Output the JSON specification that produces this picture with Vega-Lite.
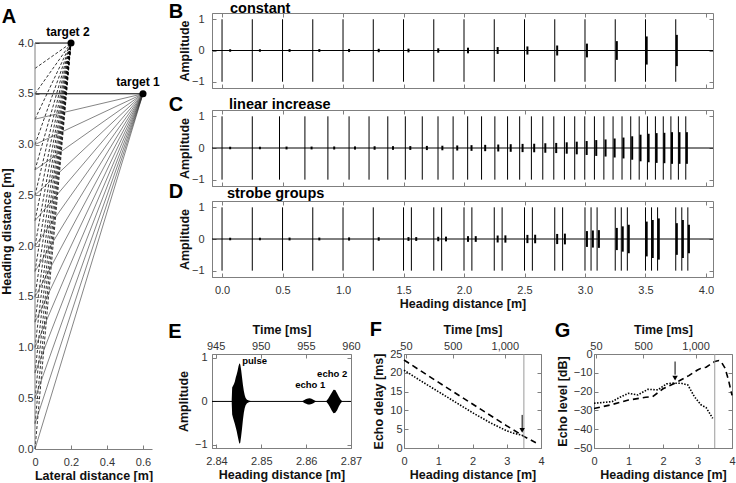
{
"$schema":"https://vega.github.io/schema/vega-lite/v6.json",
"background":"white",
"padding":{"left":0,"top":0,"right":0,"bottom":0},
"config":{
 "font":"Liberation Sans",
 "view":{"stroke":"#7f7f7f"},
 "axis":{"labelFont":"Liberation Sans","labelFontSize":11,"labelColor":"#333333","titleFont":"Liberation Sans","titleFontSize":12.5,"titleFontWeight":"bold","titleColor":"#111111","domainColor":"#7f7f7f","tickColor":"#7f7f7f","tickSize":-4,"labelPadding":6,"grid":false,"labelFlush":false,"labelOverlap":false,"labelBound":false},
 "axisBottom":{"labelPadding":11,"titlePadding":2},
 "axisTop":{"labelPadding":7},
 "text":{"font":"Liberation Sans"}
},
"bounds":"flush",
"spacing":60,
"hconcat":[
 {
  "width":117,"height":436,"view":{"stroke":null},
  "layer":[
   {"data":{"values":[
     {"x":0,"y":0,"x2":0.2,"y2":4},{"x":0,"y":0.25,"x2":0.2,"y2":4},{"x":0,"y":0.5,"x2":0.2,"y2":4},{"x":0,"y":0.75,"x2":0.2,"y2":4},
     {"x":0,"y":1,"x2":0.2,"y2":4},{"x":0,"y":1.25,"x2":0.2,"y2":4},{"x":0,"y":1.5,"x2":0.2,"y2":4},{"x":0,"y":1.75,"x2":0.2,"y2":4},
     {"x":0,"y":2,"x2":0.2,"y2":4},{"x":0,"y":2.25,"x2":0.2,"y2":4},{"x":0,"y":2.5,"x2":0.2,"y2":4},{"x":0,"y":2.75,"x2":0.2,"y2":4},
     {"x":0,"y":3,"x2":0.2,"y2":4},{"x":0,"y":3.25,"x2":0.2,"y2":4},{"x":0,"y":3.5,"x2":0.2,"y2":4},{"x":0,"y":3.75,"x2":0.2,"y2":4}]},
    "mark":{"type":"rule","strokeDash":[3,2],"strokeWidth":0.8,"color":"#000"},
    "encoding":{
     "x":{"field":"x","type":"quantitative","scale":{"domain":[0,0.65],"nice":false,"zero":false},"axis":{"values":[0,0.2,0.4,0.6],"labelExpr":"datum.value == 0 ? '0' : format(datum.value, '.1f')","labelOverlap":false,"title":"Lateral distance [m]"}},
     "y":{"field":"y","type":"quantitative","scale":{"domain":[0,4.296],"nice":false,"zero":false},"axis":{"values":[0,0.5,1,1.5,2,2.5,3,3.5,4],"format":".1f","domain":false,"title":"Heading distance [m]"}},
     "x2":{"field":"x2"},"y2":{"field":"y2"}}},
   {"data":{"values":[
     {"x":0,"y":0,"x2":0.6,"y2":3.5},{"x":0,"y":0.25,"x2":0.6,"y2":3.5},{"x":0,"y":0.5,"x2":0.6,"y2":3.5},{"x":0,"y":0.75,"x2":0.6,"y2":3.5},
     {"x":0,"y":1,"x2":0.6,"y2":3.5},{"x":0,"y":1.25,"x2":0.6,"y2":3.5},{"x":0,"y":1.5,"x2":0.6,"y2":3.5},{"x":0,"y":1.75,"x2":0.6,"y2":3.5},
     {"x":0,"y":2,"x2":0.6,"y2":3.5},{"x":0,"y":2.25,"x2":0.6,"y2":3.5},{"x":0,"y":2.5,"x2":0.6,"y2":3.5},{"x":0,"y":2.75,"x2":0.6,"y2":3.5},
     {"x":0,"y":3,"x2":0.6,"y2":3.5},{"x":0,"y":3.25,"x2":0.6,"y2":3.5}]},
    "mark":{"type":"rule","strokeWidth":0.6,"color":"#333"},
    "encoding":{"x":{"field":"x","type":"quantitative","axis":null},"y":{"field":"y","type":"quantitative","axis":null},"x2":{"field":"x2"},"y2":{"field":"y2"}}},
   {"data":{"values":[{"x":0,"y":3.5,"x2":0.6,"y2":3.5},{"x":0,"y":4,"x2":0.2,"y2":4}]},
    "mark":{"type":"rule","strokeWidth":1,"color":"#000"},
    "encoding":{"x":{"field":"x","type":"quantitative","axis":null},"y":{"field":"y","type":"quantitative","axis":null},"x2":{"field":"x2"},"y2":{"field":"y2"}}},
   {"data":{"values":[{"x":0,"y":0,"x2":0,"y2":4}]},
    "mark":{"type":"rule","strokeWidth":1,"color":"#7f7f7f"},
    "encoding":{"x":{"field":"x","type":"quantitative","axis":null},"y":{"field":"y","type":"quantitative","axis":null},"x2":{"field":"x2"},"y2":{"field":"y2"}}},
   {"data":{"values":[{"x":0.6,"y":3.5},{"x":0.2,"y":4}]},
    "mark":{"type":"point","filled":true,"size":50,"color":"#000","opacity":1},
    "encoding":{"x":{"field":"x","type":"quantitative","axis":null},"y":{"field":"y","type":"quantitative","axis":null}}},
   {"data":{"values":[{"x":0.572,"y":3.58,"t":"target 1"},{"x":0.183,"y":4.07,"t":"target 2"}]},
    "mark":{"type":"text","fontSize":12,"fontWeight":"bold","align":"center","baseline":"alphabetic","color":"#000"},
    "encoding":{"x":{"field":"x","type":"quantitative","axis":null},"y":{"field":"y","type":"quantitative","axis":null},"text":{"field":"t"}}},
   {"data":{"values":[{"x":-0.144,"y":4.2,"t":"A"}]},
    "mark":{"type":"text","fontSize":20,"fontWeight":"bold","align":"center","baseline":"alphabetic","color":"#000"},
    "encoding":{"x":{"field":"x","type":"quantitative","axis":null},"y":{"field":"y","type":"quantitative","axis":null},"text":{"field":"t"}}}
  ],
  "resolve":{"axis":{"x":"independent","y":"independent"}}
 },
 {"bounds":"flush","spacing":0,"vconcat":[
    {
     "width":501,"height":75,
     "layer":[
      {"data":{"values":[{"d":0},{"d":0.25},{"d":0.5},{"d":0.75},{"d":1},{"d":1.25},{"d":1.5},{"d":1.75},{"d":2},{"d":2.25},{"d":2.5},{"d":2.75},{"d":3},{"d":3.25},{"d":3.5},{"d":3.75}]},
       "mark":{"type":"rule","strokeWidth":1,"color":"#000"},
       "encoding":{
        "x":{"field":"d","type":"quantitative","scale":{"domain":[-0.083,4.058],"nice":false,"zero":false},"axis":{"values":[0,0.5,1,1.5,2,2.5,3,3.5,4],"labels":false,"title":null}},
        "y":{"datum":1,"type":"quantitative","scale":{"domain":[-1.2,1.2],"nice":false,"zero":false},"axis":{"values":[-1,0,1],"title":"Amplitude","labelPadding":12,"titlePadding":0}},
        "y2":{"datum":-1}}},
      {"data":{"values":[{"d":0.067,"hi":0.04,"lo":-0.04},{"d":0.313,"hi":0.04,"lo":-0.04},{"d":0.558,"hi":0.045,"lo":-0.045},{"d":0.804,"hi":0.045,"lo":-0.045},{"d":1.05,"hi":0.05,"lo":-0.05},{"d":1.295,"hi":0.055,"lo":-0.055},{"d":1.541,"hi":0.06,"lo":-0.06},{"d":1.787,"hi":0.07,"lo":-0.07},{"d":2.033,"hi":0.09,"lo":-0.09},{"d":2.278,"hi":0.11,"lo":-0.11},{"d":2.524,"hi":0.13,"lo":-0.13},{"d":2.77,"hi":0.16,"lo":-0.16},{"d":3.016,"hi":0.22,"lo":-0.22},{"d":3.263,"hi":0.3,"lo":-0.3},{"d":3.51,"hi":0.45,"lo":-0.45},{"d":3.759,"hi":0.5,"lo":-0.5}]},
       "mark":{"type":"rule","strokeWidth":2,"color":"#000"},
       "encoding":{"x":{"field":"d","type":"quantitative","axis":null},"y":{"field":"hi","type":"quantitative","axis":null},"y2":{"field":"lo"}}},
      {"data":{"values":[{"b":0}]},
       "mark":{"type":"rule","strokeWidth":1,"color":"#000"},
       "encoding":{"x":{"datum":-0.083,"type":"quantitative","axis":{"orient":"top","values":[0,0.5,1,1.5,2,2.5,3,3.5,4],"labels":false,"title":null,"domain":false}},"x2":{"datum":4.058},"y":{"datum":0,"type":"quantitative","axis":{"orient":"right","values":[-1,0,1],"labels":false,"title":null,"domain":false}}}},
      {"data":{"values":[{"d":-0.44,"hi":1.04,"t":"B","s":20},{"d":0.066,"hi":1.19,"t":"constant","s":14.5}]},
       "mark":{"type":"text","fontWeight":"bold","align":"left","baseline":"alphabetic","color":"#000"},
       "encoding":{"x":{"field":"d","type":"quantitative","axis":null},"y":{"field":"hi","type":"quantitative","axis":null},"text":{"field":"t"},"size":{"field":"s","type":"quantitative","scale":null}}}
     ],
     "resolve":{"axis":{"x":"independent","y":"independent"}}
    },
    {"width":10,"height":22,"view":{"stroke":null},"data":{"values":[]},"mark":"point","encoding":{}},
    {
     "width":501,"height":76,
     "layer":[
      {"data":{"values":[{"d":0},{"d":0.25},{"d":0.475},{"d":0.685},{"d":0.875},{"d":1.05},{"d":1.215},{"d":1.37},{"d":1.515},{"d":1.655},{"d":1.785},{"d":1.91},{"d":2.03},{"d":2.145},{"d":2.255},{"d":2.36},{"d":2.46},{"d":2.557},{"d":2.651},{"d":2.742},{"d":2.83},{"d":2.915},{"d":2.998},{"d":3.078},{"d":3.156},{"d":3.232},{"d":3.306},{"d":3.378},{"d":3.448},{"d":3.516},{"d":3.582},{"d":3.647},{"d":3.71},{"d":3.772},{"d":3.833}]},
       "mark":{"type":"rule","strokeWidth":1,"color":"#000"},
       "encoding":{
        "x":{"field":"d","type":"quantitative","scale":{"domain":[-0.083,4.058],"nice":false,"zero":false},"axis":{"values":[0,0.5,1,1.5,2,2.5,3,3.5,4],"labels":false,"title":null}},
        "y":{"datum":1,"type":"quantitative","scale":{"domain":[-1.2,1.2],"nice":false,"zero":false},"axis":{"values":[-1,0,1],"title":"Amplitude","labelPadding":12,"titlePadding":0}},
        "y2":{"datum":-1}}},
      {"data":{"values":[{"d":0.067,"hi":0.04,"lo":-0.04},{"d":0.313,"hi":0.04,"lo":-0.04},{"d":0.533,"hi":0.045,"lo":-0.045},{"d":0.74,"hi":0.045,"lo":-0.045},{"d":0.927,"hi":0.048,"lo":-0.048},{"d":1.099,"hi":0.05,"lo":-0.05},{"d":1.261,"hi":0.055,"lo":-0.055},{"d":1.413,"hi":0.058,"lo":-0.058},{"d":1.556,"hi":0.06,"lo":-0.06},{"d":1.693,"hi":0.066,"lo":-0.066},{"d":1.821,"hi":0.072,"lo":-0.072},{"d":1.944,"hi":0.08,"lo":-0.08},{"d":2.062,"hi":0.09,"lo":-0.09},{"d":2.175,"hi":0.1,"lo":-0.1},{"d":2.283,"hi":0.11,"lo":-0.11},{"d":2.386,"hi":0.12,"lo":-0.12},{"d":2.484,"hi":0.13,"lo":-0.13},{"d":2.58,"hi":0.135,"lo":-0.135},{"d":2.672,"hi":0.15,"lo":-0.15},{"d":2.762,"hi":0.16,"lo":-0.16},{"d":2.849,"hi":0.18,"lo":-0.18},{"d":2.932,"hi":0.2,"lo":-0.2},{"d":3.014,"hi":0.22,"lo":-0.22},{"d":3.093,"hi":0.25,"lo":-0.25},{"d":3.17,"hi":0.27,"lo":-0.27},{"d":3.245,"hi":0.3,"lo":-0.3},{"d":3.318,"hi":0.33,"lo":-0.33},{"d":3.39,"hi":0.37,"lo":-0.37},{"d":3.459,"hi":0.42,"lo":-0.42},{"d":3.526,"hi":0.45,"lo":-0.45},{"d":3.592,"hi":0.47,"lo":-0.47},{"d":3.656,"hi":0.48,"lo":-0.48},{"d":3.719,"hi":0.5,"lo":-0.5},{"d":3.781,"hi":0.5,"lo":-0.5},{"d":3.842,"hi":0.5,"lo":-0.5}]},
       "mark":{"type":"rule","strokeWidth":2,"color":"#000"},
       "encoding":{"x":{"field":"d","type":"quantitative","axis":null},"y":{"field":"hi","type":"quantitative","axis":null},"y2":{"field":"lo"}}},
      {"data":{"values":[{"b":0}]},
       "mark":{"type":"rule","strokeWidth":1,"color":"#000"},
       "encoding":{"x":{"datum":-0.083,"type":"quantitative","axis":{"orient":"top","values":[0,0.5,1,1.5,2,2.5,3,3.5,4],"labels":false,"title":null,"domain":false}},"x2":{"datum":4.058},"y":{"datum":0,"type":"quantitative","axis":{"orient":"right","values":[-1,0,1],"labels":false,"title":null,"domain":false}}}},
      {"data":{"values":[{"d":-0.44,"hi":1.17,"t":"C","s":20},{"d":0.058,"hi":1.23,"t":"linear increase","s":14.5}]},
       "mark":{"type":"text","fontWeight":"bold","align":"left","baseline":"alphabetic","color":"#000"},
       "encoding":{"x":{"field":"d","type":"quantitative","axis":null},"y":{"field":"hi","type":"quantitative","axis":null},"text":{"field":"t"},"size":{"field":"s","type":"quantitative","scale":null}}}
     ],
     "resolve":{"axis":{"x":"independent","y":"independent"}}
    },
    {"width":10,"height":15,"view":{"stroke":null},"data":{"values":[]},"mark":"point","encoding":{}},
    {
     "width":501,"height":76,
     "layer":[
      {"data":{"values":[{"d":0},{"d":0.25},{"d":0.5},{"d":0.75},{"d":1},{"d":1.25},{"d":1.5},{"d":1.565},{"d":1.75},{"d":1.815},{"d":2},{"d":2.065},{"d":2.25},{"d":2.315},{"d":2.5},{"d":2.565},{"d":2.75},{"d":2.815},{"d":3},{"d":3.05},{"d":3.1},{"d":3.25},{"d":3.3},{"d":3.35},{"d":3.5},{"d":3.55},{"d":3.6},{"d":3.75},{"d":3.8},{"d":3.85}]},
       "mark":{"type":"rule","strokeWidth":1,"color":"#000"},
       "encoding":{
        "x":{"field":"d","type":"quantitative","scale":{"domain":[-0.083,4.058],"nice":false,"zero":false},"axis":{"values":[0,0.5,1,1.5,2,2.5,3,3.5,4],"format":".1f","title":"Heading distance [m]"}},
        "y":{"datum":1,"type":"quantitative","scale":{"domain":[-1.2,1.2],"nice":false,"zero":false},"axis":{"values":[-1,0,1],"title":"Amplitude","labelPadding":12,"titlePadding":0}},
        "y2":{"datum":-1}}},
      {"data":{"values":[{"d":0.067,"hi":0.04,"lo":-0.04},{"d":0.313,"hi":0.04,"lo":-0.04},{"d":0.558,"hi":0.045,"lo":-0.045},{"d":0.804,"hi":0.045,"lo":-0.045},{"d":1.05,"hi":0.05,"lo":-0.05},{"d":1.295,"hi":0.055,"lo":-0.055},{"d":1.541,"hi":0.06,"lo":-0.06},{"d":1.605,"hi":0.06,"lo":-0.06},{"d":1.787,"hi":0.07,"lo":-0.07},{"d":1.851,"hi":0.075,"lo":-0.075},{"d":2.033,"hi":0.09,"lo":-0.09},{"d":2.097,"hi":0.09,"lo":-0.09},{"d":2.278,"hi":0.11,"lo":-0.11},{"d":2.342,"hi":0.115,"lo":-0.115},{"d":2.524,"hi":0.13,"lo":-0.13},{"d":2.588,"hi":0.135,"lo":-0.135},{"d":2.77,"hi":0.16,"lo":-0.16},{"d":2.834,"hi":0.17,"lo":-0.17},{"d":3.016,"hi":0.25,"lo":-0.25},{"d":3.065,"hi":0.27,"lo":-0.27},{"d":3.115,"hi":0.28,"lo":-0.28},{"d":3.263,"hi":0.35,"lo":-0.35},{"d":3.312,"hi":0.4,"lo":-0.4},{"d":3.362,"hi":0.45,"lo":-0.45},{"d":3.51,"hi":0.55,"lo":-0.55},{"d":3.56,"hi":0.6,"lo":-0.6},{"d":3.61,"hi":0.65,"lo":-0.65},{"d":3.759,"hi":0.5,"lo":-0.5},{"d":3.809,"hi":0.6,"lo":-0.6},{"d":3.859,"hi":0.45,"lo":-0.45}]},
       "mark":{"type":"rule","strokeWidth":2,"color":"#000"},
       "encoding":{"x":{"field":"d","type":"quantitative","axis":null},"y":{"field":"hi","type":"quantitative","axis":null},"y2":{"field":"lo"}}},
      {"data":{"values":[{"b":0}]},
       "mark":{"type":"rule","strokeWidth":1,"color":"#000"},
       "encoding":{"x":{"datum":-0.083,"type":"quantitative","axis":{"orient":"top","values":[0,0.5,1,1.5,2,2.5,3,3.5,4],"labels":false,"title":null,"domain":false}},"x2":{"datum":4.058},"y":{"datum":0,"type":"quantitative","axis":{"orient":"right","values":[-1,0,1],"labels":false,"title":null,"domain":false}}}},
      {"data":{"values":[{"d":-0.44,"hi":1.28,"t":"D","s":20},{"d":0.04,"hi":1.3,"t":"strobe groups","s":14.5}]},
       "mark":{"type":"text","fontWeight":"bold","align":"left","baseline":"alphabetic","color":"#000"},
       "encoding":{"x":{"field":"d","type":"quantitative","axis":null},"y":{"field":"hi","type":"quantitative","axis":null},"text":{"field":"t"},"size":{"field":"s","type":"quantitative","scale":null}}}
     ],
     "resolve":{"axis":{"x":"independent","y":"independent"}}
    },
    {"width":10,"height":77,"view":{"stroke":null},"data":{"values":[]},"mark":"point","encoding":{}},
    {"bounds":"flush","spacing":53,"hconcat":[
    {
     "width":139,"height":94,
     "layer":[
      {"data":{"values":[
        {"x":2.8434,"hi":0.05,"lo":-0.05,"g":"p"},{"x":2.8435,"hi":0.32,"lo":-0.3,"g":"p"},{"x":2.8437,"hi":0.36,"lo":-0.38,"g":"p"},{"x":2.8439,"hi":0.4,"lo":-0.45,"g":"p"},{"x":2.8441,"hi":0.46,"lo":-0.52,"g":"p"},{"x":2.8443,"hi":0.55,"lo":-0.6,"g":"p"},{"x":2.8445,"hi":0.62,"lo":-0.68,"g":"p"},{"x":2.8447,"hi":0.7,"lo":-0.78,"g":"p"},{"x":2.8449,"hi":0.8,"lo":-0.88,"g":"p"},{"x":2.8451,"hi":0.88,"lo":-0.97,"g":"p"},{"x":2.8453,"hi":0.85,"lo":-0.95,"g":"p"},{"x":2.8455,"hi":0.72,"lo":-0.8,"g":"p"},{"x":2.8457,"hi":0.55,"lo":-0.62,"g":"p"},{"x":2.8459,"hi":0.38,"lo":-0.42,"g":"p"},{"x":2.8461,"hi":0.24,"lo":-0.26,"g":"p"},{"x":2.8463,"hi":0.14,"lo":-0.15,"g":"p"},{"x":2.8465,"hi":0.08,"lo":-0.09,"g":"p"},{"x":2.8468,"hi":0.04,"lo":-0.04,"g":"p"},{"x":2.8472,"hi":0.02,"lo":-0.02,"g":"p"},{"x":2.8476,"hi":0.01,"lo":-0.01,"g":"p"},
        {"x":2.8592,"hi":0.01,"lo":-0.01,"g":"e1"},{"x":2.8596,"hi":0.035,"lo":-0.035,"g":"e1"},{"x":2.86,"hi":0.055,"lo":-0.055,"g":"e1"},{"x":2.8604,"hi":0.07,"lo":-0.07,"g":"e1"},{"x":2.8608,"hi":0.075,"lo":-0.07,"g":"e1"},{"x":2.8612,"hi":0.06,"lo":-0.06,"g":"e1"},{"x":2.8616,"hi":0.04,"lo":-0.04,"g":"e1"},{"x":2.862,"hi":0.015,"lo":-0.015,"g":"e1"},{"x":2.8623,"hi":0.005,"lo":-0.005,"g":"e1"},
        {"x":2.8645,"hi":0.01,"lo":-0.01,"g":"e2"},{"x":2.8649,"hi":0.06,"lo":-0.06,"g":"e2"},{"x":2.8653,"hi":0.13,"lo":-0.13,"g":"e2"},{"x":2.8657,"hi":0.2,"lo":-0.21,"g":"e2"},{"x":2.8661,"hi":0.27,"lo":-0.27,"g":"e2"},{"x":2.8665,"hi":0.26,"lo":-0.26,"g":"e2"},{"x":2.8669,"hi":0.19,"lo":-0.2,"g":"e2"},{"x":2.8673,"hi":0.11,"lo":-0.11,"g":"e2"},{"x":2.8677,"hi":0.04,"lo":-0.04,"g":"e2"},{"x":2.868,"hi":0.01,"lo":-0.01,"g":"e2"}]},
       "mark":{"type":"area","color":"#000","opacity":1},
       "encoding":{
        "x":{"field":"x","type":"quantitative","scale":{"domain":[2.839,2.87],"nice":false,"zero":false},"axis":{"values":[2.84,2.85,2.86,2.87],"format":".2f","title":"Heading distance [m]"}},
        "y":{"field":"hi","type":"quantitative","scale":{"domain":[-1.07,1.09],"nice":false,"zero":false},"axis":{"values":[-1,0,1],"title":"Amplitude","labelPadding":9}},
        "y2":{"field":"lo"},
        "detail":{"field":"g"}}},
      {"data":{"values":[{"b":0}]},
       "mark":{"type":"rule","strokeWidth":1,"color":"#000"},
       "encoding":{"x":{"datum":944.6,"type":"quantitative","scale":{"domain":[944.6,960],"nice":false,"zero":false},"axis":{"orient":"top","values":[945,950,955,960],"title":"Time [ms]","domain":false}},"x2":{"datum":960},"y":{"datum":0,"type":"quantitative","axis":{"orient":"right","values":[-1,0,1],"labels":false,"title":null,"domain":false}}}},
      {"data":{"values":[{"x":2.8485,"hi":0.87,"t":"pulse","s":9.5},{"x":2.8609,"hi":0.32,"t":"echo 1","s":9.5},{"x":2.8658,"hi":0.56,"t":"echo 2","s":9.5},{"x":2.83075,"hi":1.46,"t":"E","s":20}]},
       "mark":{"type":"text","fontWeight":"bold","align":"center","baseline":"alphabetic","color":"#000"},
       "encoding":{"x":{"field":"x","type":"quantitative","scale":{"domain":[2.839,2.87],"nice":false,"zero":false},"axis":null},"y":{"field":"hi","type":"quantitative","axis":null},"text":{"field":"t"},"size":{"field":"s","type":"quantitative","scale":null}}}
     ],
     "resolve":{"scale":{"x":"independent"},"axis":{"x":"independent","y":"independent"}}
    },
    {
     "width":137,"height":94,
     "layer":[
      {"data":{"values":[{"d":0,"v":23.4},{"d":1,"v":17.5},{"d":2,"v":11.7},{"d":3,"v":5.9},{"d":3.5,"v":3.1},{"d":3.85,"v":1.4}]},
       "mark":{"type":"line","strokeDash":[6,4],"strokeWidth":1.6,"color":"#000"},
       "encoding":{
        "x":{"field":"d","type":"quantitative","scale":{"domain":[0,4],"nice":false,"zero":false},"axis":{"values":[0,1,2,3,4],"title":"Heading distance [m]"}},
        "y":{"field":"v","type":"quantitative","scale":{"domain":[0,25],"nice":false,"zero":false},"axis":{"values":[0,5,10,15,20,25],"title":"Echo delay [ms]"}}}},
      {"data":{"values":[{"d":0,"v":20.7},{"d":0.5,"v":17.8},{"d":1,"v":15},{"d":1.5,"v":12.2},{"d":2,"v":9.4},{"d":2.5,"v":6.8},{"d":3,"v":4.55},{"d":3.25,"v":3.8},{"d":3.45,"v":3.4}]},
       "mark":{"type":"line","strokeDash":[1.5,1.5],"strokeWidth":1.6,"color":"#000"},
       "encoding":{"x":{"field":"d","type":"quantitative","scale":{"domain":[0,4],"nice":false,"zero":false},"axis":null},"y":{"field":"v","type":"quantitative","axis":null}}},
      {"data":{"values":[{"d":3.5}]},
       "mark":{"type":"rule","strokeWidth":1,"color":"#9a9a9a"},
       "encoding":{"x":{"field":"d","type":"quantitative","scale":{"domain":[0,4],"nice":false,"zero":false},"axis":null}}},
      {"data":{"values":[{"d":3.45,"v":8.8,"v2":5}]},
       "mark":{"type":"rule","strokeWidth":1,"color":"#000"},
       "encoding":{"x":{"field":"d","type":"quantitative","scale":{"domain":[0,4],"nice":false,"zero":false},"axis":null},"y":{"field":"v","type":"quantitative","axis":null},"y2":{"field":"v2"}}},
      {"data":{"values":[{"d":3.45,"v":4.7}]},
       "mark":{"type":"point","shape":"triangle-down","filled":true,"size":30,"color":"#000","opacity":1},
       "encoding":{"x":{"field":"d","type":"quantitative","scale":{"domain":[0,4],"nice":false,"zero":false},"axis":null},"y":{"field":"v","type":"quantitative","axis":null}}},
      {"data":{"values":[{"d":-0.82,"v":29.9,"t":"F"}]},
       "mark":{"type":"text","fontWeight":"bold","fontSize":20,"align":"center","baseline":"alphabetic","color":"#000"},
       "encoding":{"x":{"field":"d","type":"quantitative","scale":{"domain":[0,4],"nice":false,"zero":false},"axis":null},"y":{"field":"v","type":"quantitative","axis":null},"text":{"field":"t"}}},
      {"data":{"values":[{"b":0}]},
       "mark":{"type":"point","opacity":0},
       "encoding":{"x":{"datum":50,"type":"quantitative","scale":{"domain":[31,1348],"nice":false,"zero":false},"axis":{"orient":"top","values":[50,500,1000],"title":"Time [ms]","domain":false}},"y":{"datum":0,"type":"quantitative","axis":{"orient":"right","values":[0,5,10,15,20,25],"labels":false,"title":null,"domain":false}}}}
     ],
     "resolve":{"scale":{"x":"independent"},"axis":{"x":"independent","y":"independent"}}
    },
    {
    "width":138,"height":94,
    "layer":[
     {"data":{"values":[{"d":0,"v":-29},{"d":0.5,"v":-27},{"d":1,"v":-24.5},{"d":1.5,"v":-23},{"d":1.7,"v":-22.7},{"d":2,"v":-18.5},{"d":2.35,"v":-15.5},{"d":2.5,"v":-14},{"d":2.75,"v":-11.5},{"d":3,"v":-8.5},{"d":3.1,"v":-7.6},{"d":3.25,"v":-7},{"d":3.5,"v":-4},{"d":3.62,"v":-3.5},{"d":3.7,"v":-4.5},{"d":3.8,"v":-7.6},{"d":3.9,"v":-14},{"d":4,"v":-22}]},
      "mark":{"type":"line","strokeDash":[6,4],"strokeWidth":1.6,"color":"#000"},
      "encoding":{
       "x":{"field":"d","type":"quantitative","scale":{"domain":[0,4],"nice":false,"zero":false},"axis":{"values":[0,1,2,3,4],"title":"Heading distance [m]"}},
       "y":{"field":"v","type":"quantitative","scale":{"domain":[-50,0],"nice":false,"zero":false},"axis":{"values":[0,-10,-20,-30,-40,-50],"title":"Echo level [dB]"}}}},
     {"data":{"values":[{"d":0,"v":-26.2},{"d":0.25,"v":-25.8},{"d":0.53,"v":-25.3},{"d":0.75,"v":-23},{"d":1,"v":-20.9},{"d":1.27,"v":-21.8},{"d":1.56,"v":-18.8},{"d":1.85,"v":-19.1},{"d":2.1,"v":-15.9},{"d":2.3,"v":-15.5},{"d":2.53,"v":-15.6},{"d":2.72,"v":-16.5},{"d":2.91,"v":-22.7},{"d":3.1,"v":-27},{"d":3.25,"v":-28.5},{"d":3.44,"v":-34.2}]},
      "mark":{"type":"line","strokeDash":[1.5,1.5],"strokeWidth":1.6,"color":"#000"},
      "encoding":{"x":{"field":"d","type":"quantitative","scale":{"domain":[0,4],"nice":false,"zero":false},"axis":null},"y":{"field":"v","type":"quantitative","axis":null}}},
     {"data":{"values":[{"d":3.5}]},
      "mark":{"type":"rule","strokeWidth":1,"color":"#9a9a9a"},
      "encoding":{"x":{"field":"d","type":"quantitative","scale":{"domain":[0,4],"nice":false,"zero":false},"axis":null}}},
     {"data":{"values":[{"d":2.35,"v":-4,"v2":-11}]},
      "mark":{"type":"rule","strokeWidth":1,"color":"#000"},
      "encoding":{"x":{"field":"d","type":"quantitative","scale":{"domain":[0,4],"nice":false,"zero":false},"axis":null},"y":{"field":"v","type":"quantitative","axis":null},"y2":{"field":"v2"}}},
     {"data":{"values":[{"d":2.35,"v":-12.8}]},
      "mark":{"type":"point","shape":"triangle-down","filled":true,"size":30,"color":"#000","opacity":1},
      "encoding":{"x":{"field":"d","type":"quantitative","scale":{"domain":[0,4],"nice":false,"zero":false},"axis":null},"y":{"field":"v","type":"quantitative","axis":null}}},
     {"data":{"values":[{"d":-0.91,"v":9,"t":"G"}]},
      "mark":{"type":"text","fontWeight":"bold","fontSize":20,"align":"center","baseline":"alphabetic","color":"#000"},
      "encoding":{"x":{"field":"d","type":"quantitative","scale":{"domain":[0,4],"nice":false,"zero":false},"axis":null},"y":{"field":"v","type":"quantitative","axis":null},"text":{"field":"t"}}},
     {"data":{"values":[{"b":0}]},
      "mark":{"type":"point","opacity":0},
      "encoding":{"x":{"datum":50,"type":"quantitative","scale":{"domain":[31,1348],"nice":false,"zero":false},"axis":{"orient":"top","values":[50,500,1000],"title":"Time [ms]","domain":false}},"y":{"datum":0,"type":"quantitative","axis":{"orient":"right","values":[0,-10,-20,-30,-40,-50],"labels":false,"title":null,"domain":false}}}}
    ],
    "resolve":{"scale":{"x":"independent"},"axis":{"x":"independent","y":"independent"}}
    }
   ]}
 ]}
]
}
